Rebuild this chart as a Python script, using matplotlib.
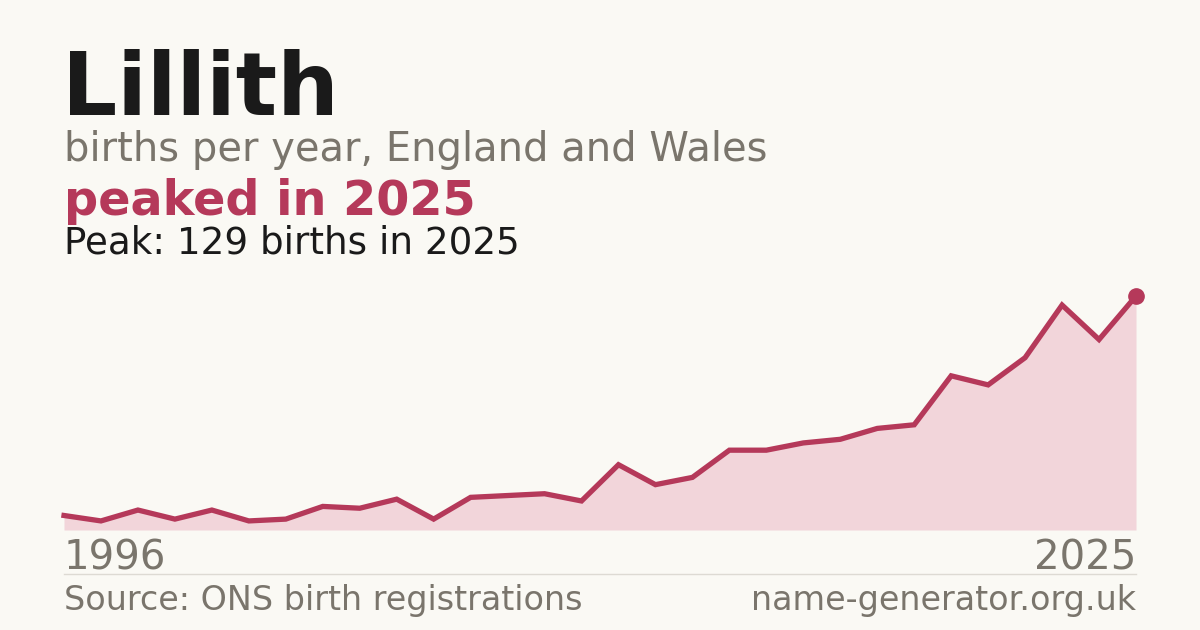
import matplotlib.pyplot as plt

# data
years = list(range(1996, 2026))
births = [8, 5, 11, 6, 11, 5, 6, 13, 12, 17,
          6, 18, 19, 20, 16, 36, 25, 29, 44, 44,
          48, 50, 56, 58, 85, 80, 95, 124, 105, 129]

bg = '#faf9f4'
red = '#b5395a'
grey = '#7a756c'
W, H = 1200, 630

fig = plt.figure(figsize=(12, 6.3), dpi=100, facecolor=bg)
ax = fig.add_axes([64 / W, 1 - 530 / H, (1136 - 64) / W, (530 - 296) / H])
ax.set_facecolor(bg)
ax.fill_between(years, births, 0, color='#f2d5da', lw=0)
ax.plot(years, births, color=red, lw=3.8, solid_joinstyle='miter', clip_on=False)
ax.plot(years[-1], births[-1], 'o', color=red, ms=11, clip_on=False)
ax.set_xlim(years[0], years[-1])
ax.set_ylim(0, max(births))
ax.axis('off')

def t(x, y, s, **kw):
    fig.text(x / W, 1 - y / H, s, va='baseline', **kw)

t(62, 115, 'Lillith', fontsize=62.4, fontweight='bold', color='#1a1a1a')
t(64, 161, 'births per year, England and Wales', fontsize=28.8, color=grey)
t(64, 215, 'peaked in 2025', fontsize=34.4, fontweight='bold', color=red)
t(64, 254, 'Peak: 129 births in 2025', fontsize=26.8, color='#1a1a1a')
t(64, 570, str(years[0]), fontsize=29, color=grey)
t(1136, 570, str(years[-1]), fontsize=29, color=grey, ha='right')
t(64, 610, 'Source: ONS birth registrations', fontsize=24, color=grey)
t(1136, 610, 'name-generator.org.uk', fontsize=24, color=grey, ha='right')

fig.add_artist(plt.Line2D([64 / W, 1136 / W], [1 - 574 / H] * 2, color='#dddad3', lw=1))

fig.savefig('out.png', dpi=100, facecolor=bg)
